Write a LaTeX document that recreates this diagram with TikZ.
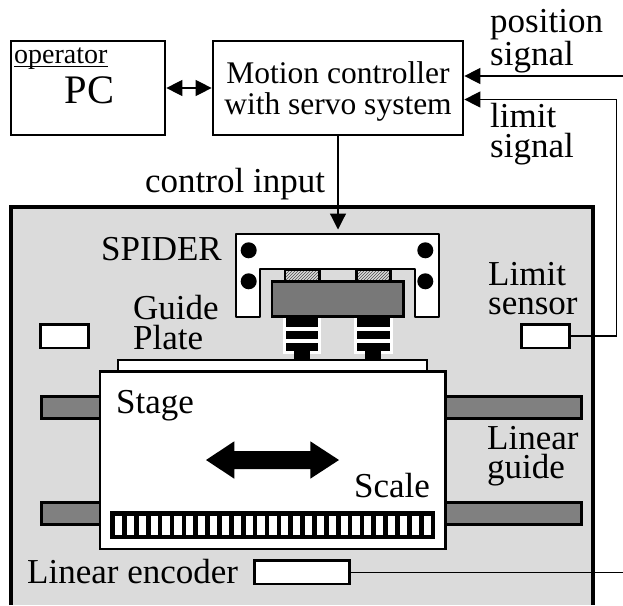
\documentclass[tikz,border=0pt]{standalone}
\usepackage{fontspec}
\setmainfont{Liberation Serif}
\usetikzlibrary{arrows.meta,patterns}
\definecolor{framegray}{gray}{.86}
\definecolor{railgray}{gray}{.5}
\definecolor{blockgray}{gray}{.47}
\tikzset{
  lbl/.style={anchor=base west,inner sep=0pt,align=left,font=\fontsize{35}{29}\selectfont},
  ctrllbl/.style={anchor=base,inner sep=0pt,align=center,font=\fontsize{31.5}{31}\selectfont},
  box/.style={draw,line width=2.7pt,fill=white,inner sep=0pt,minimum width=#1},
  box/.default=47.6pt,
  sensorbox/.style={box,minimum height=23.7pt},
  sig/.style={line width=1.2pt},
  sigarrow/.style={sig,-{Triangle[length=16pt,width=16pt]}}
}
\begin{document}
\begin{tikzpicture}[x=1pt,y=-1pt]
\useasboundingbox (0,0) rectangle (623,605);
% frame
\fill[framegray] (11,605) -- (11,207) -- (593,207) -- (593,605) -- cycle;
\draw[line width=4pt,miter limit=10] (11,605) -- (11,207) -- (593,207) -- (593,605);
% top boxes
\node[box=154pt,minimum height=94pt] (pc) at (88,88) {};
\node[box=250pt,minimum height=94pt] (controller) at (338,88) {};
\node[lbl,font=\fontsize{28}{28}\selectfont] (operatorlbl) at (14,63) {operator};
\draw[line width=1pt] ([yshift=-3.7pt]operatorlbl.base west) -- ([yshift=-3.7pt]operatorlbl.base east);
\node[lbl,font=\fontsize{40.5}{40.5}\selectfont] (pclbl) at (64.5,103) {PC};
\node[ctrllbl] (motionlbl) at (338,114) {Motion controller\\with servo system};
\node[lbl] (positionlbl) at (490,65) {position\\signal};
\node[lbl] (limitlbl) at (490,157) {limit\\[1pt]signal};
\node[lbl] (controllbl) at (145,192.7) {control input};
% rails
\draw[line width=3pt,fill=railgray] (41,396.5) rectangle (581,418.5);
\draw[line width=3pt,fill=railgray] (41,502.5) rectangle (581,524);
% guide plate and stage
\draw[line width=2.5pt,fill=white] (118,360) rectangle (427,372);
\draw[line width=2.2pt,fill=white] (100,371.5) rectangle (445.5,549);
% spider
\draw[line width=2.2pt,fill=white,line join=round] (236,234) -- (439,234) -- (439,316.7) -- (415,316.7) -- (415,269.3) -- (260.3,269.3) -- (260.3,316.7) -- (236,316.7) -- cycle;
\foreach \x in {248.7,425.3}
\foreach \y in {250.3,281.3}
\fill (\x,\y) circle (8);
\foreach \x in {302.2,373.4} {
\fill[white] (\x-19.2,316) rectangle (\x+19.2,354);
\foreach \y in {318.3,330.7,342.7}
\fill (\x-16.2,\y) rectangle (\x+16.2,\y+8.2);
\fill (\x-8,350) rectangle (\x+8,360);
\draw[line width=2.6pt,pattern=north east lines,pattern color=black!70] (\x-17.2,269.3) rectangle (\x+17.2,281.3);
}
\draw[line width=2.5pt,fill=blockgray] (272,281.3) rectangle (403.7,316.7);
% stage contents
\fill (206,460) -- (234.3,441.3) -- (234.3,451) -- (310.3,451) -- (310.3,441.3) -- (339,460) -- (310.3,478.7) -- (310.3,469) -- (234.3,469) -- (234.3,478.7) -- cycle;
\fill (110,511) rectangle (435,539);
\foreach \i in {0,...,26}
\fill[white] ({115+\i*11.87},515.7) rectangle +(7.2,19.3);
% sensors
\node[sensorbox] (sensorleft) at (64.5,336) {};
\node[sensorbox] (sensorlimit) at (545.5,336) {};
\node[box=95pt,minimum height=23.4pt] (encoder) at (302.2,572.3) {};
% labels inside
\node[lbl] (spiderlbl) at (101,260) {SPIDER};
\node[lbl] (guidelbl) at (133,349) {Guide\\[1pt]Plate};
\node[lbl] (stagelbl) at (116,413) {Stage};
\node[lbl] (limitsensorlbl) at (488,314) {Limit\\sensor};
\node[lbl] (linearlbl) at (487,478) {Linear\\guide};
\node[lbl] (scalelbl) at (354,497) {Scale};
\node[lbl] (encoderlbl) at (27,583) {Linear encoder};
% connectors
\coordinate (spidertop) at (338,229.5);
\coordinate (posend) at (623,76);
\coordinate (limitcorner) at (616.7,99.5);
\draw[sig,{Triangle[length=16pt,width=16pt]}-{Triangle[length=16pt,width=16pt]}] (pc.east) -- (controller.west);
\draw[sigarrow] (controller.south) -- (spidertop);
\draw[sigarrow] (posend) -- (posend -| controller.east);
\draw[sigarrow] (sensorlimit.east) -| (limitcorner) -- (limitcorner -| controller.east);
\draw[sig] (encoder.east) -- (encoder.east -| posend);
\end{tikzpicture}
\end{document}
